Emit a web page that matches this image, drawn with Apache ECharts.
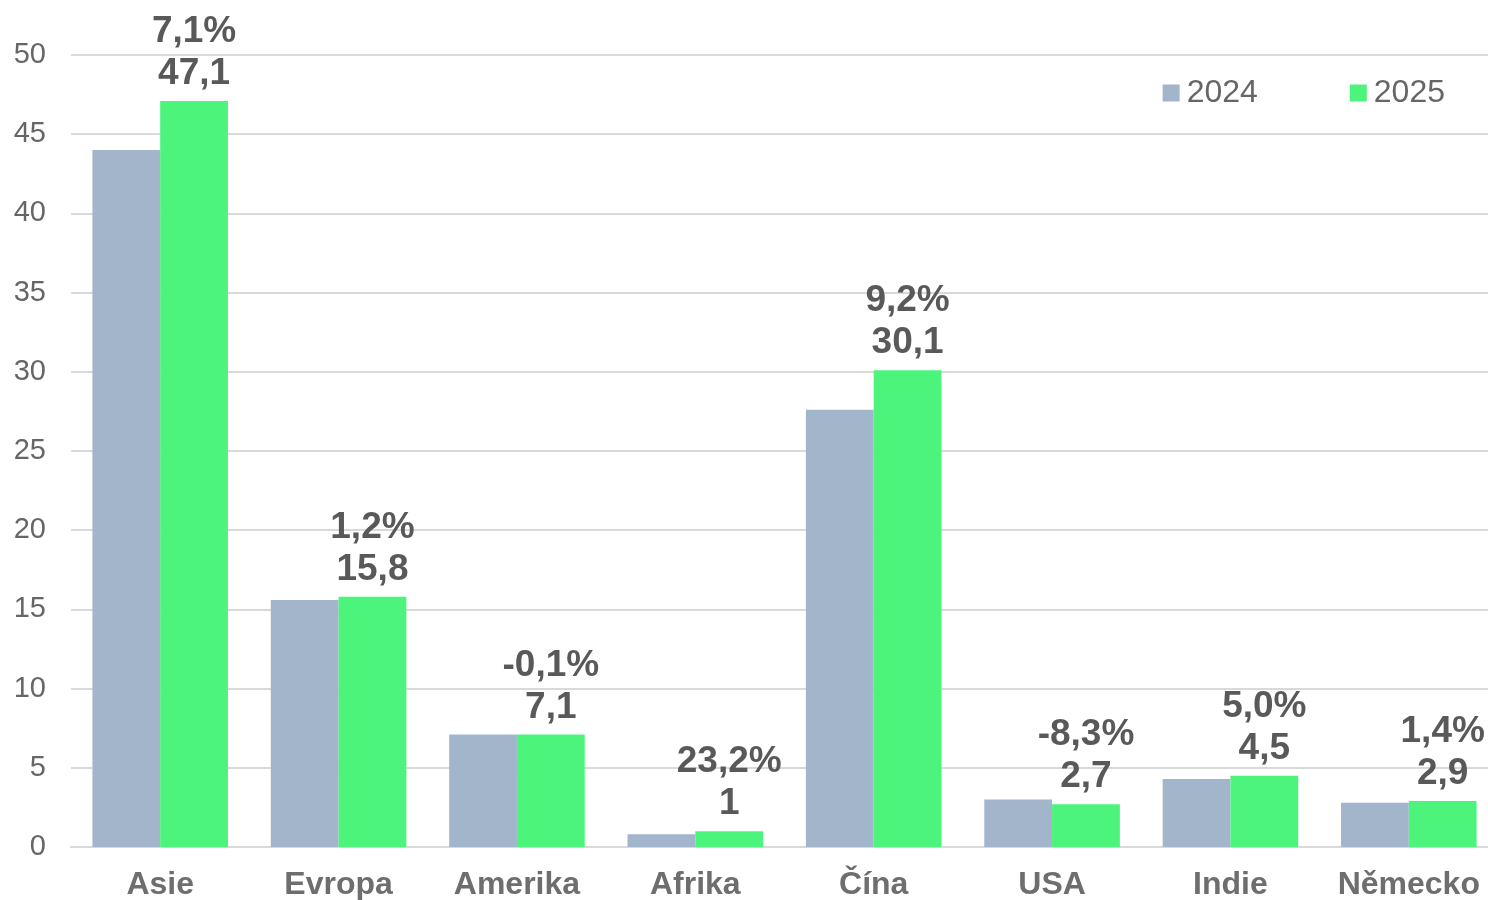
<!DOCTYPE html>
<html>
<head>
<meta charset="utf-8">
<script src="https://cdn.jsdelivr.net/npm/echarts@6/dist/echarts.min.js"></script>
<style>
  html, body { margin: 0; padding: 0; background: #fff; overflow: hidden; }
  #chart { width: 1498px; height: 900px; }
</style>
</head>
<body>
<div id="chart"></div>
<script>
const categories = ['Asie', 'Evropa', 'Amerika', 'Afrika', 'Čína', 'USA', 'Indie', 'Německo']
const values2024 = [44.0, 15.6, 7.1, 0.8, 27.6, 3.0, 4.3, 2.8]
const values2025 = [47.1, 15.8, 7.1, 1, 30.1, 2.7, 4.5, 2.9]
const changePct = ['7,1', '1,2', '-0,1', '23,2', '9,2', '-8,3', '5,0', '1,4']

const fmt = v => String(v).replace('.', ',')

const chart = echarts.init(document.getElementById('chart'))

const option = {
  animation: false,
  textStyle: { fontFamily: 'Liberation Sans, Arial, sans-serif' },
  legend: {
    right: 48,
    top: 72,
    itemWidth: 17,
    itemHeight: 17,
    itemGap: 92,
    icon: 'rect',
    textStyle: { fontSize: 32, color: '#666666', padding: [0, 0, 0, 2] },
    data: ['2024', '2025']
  },
  grid: { left: 71, right: 0, top: 55, bottom: 53, containLabel: false, outerBoundsMode: 'none' },
  xAxis: {
    type: 'category',
    data: categories,
    axisTick: { show: false },
    axisLine: { lineStyle: { color: '#d9d9d9', width: 2 } },
    axisLabel: { interval: 0, fontSize: 32, fontWeight: 'bold', color: '#6e6e6e', margin: 22 }
  },
  yAxis: {
    type: 'value',
    min: 0,
    max: 50,
    interval: 5,
    axisLine: { show: false },
    axisTick: { show: false },
    splitLine: { lineStyle: { color: '#d9d9d9', width: 2 } },
    axisLabel: { fontSize: 29, color: '#666666', margin: 25 }
  },
  series: [
    {
      name: '2024',
      type: 'bar',
      data: values2024,
      barGap: '0%',
      barCategoryGap: '24%',
      itemStyle: { color: '#a3b5ca' }
    },
    {
      name: '2025',
      type: 'bar',
      data: values2025,
      barGap: '0%',
      barCategoryGap: '24%',
      itemStyle: { color: '#4cf47c' },
      label: {
        show: true,
        position: 'top',
        distance: 6,
        fontSize: 37,
        fontWeight: 'bold',
        color: '#595959',
        lineHeight: 42,
        formatter: p => changePct[p.dataIndex] + '%\n' + fmt(p.value)
      }
    }
  ]
}

option && chart.setOption(option)
</script>
</body>
</html>
